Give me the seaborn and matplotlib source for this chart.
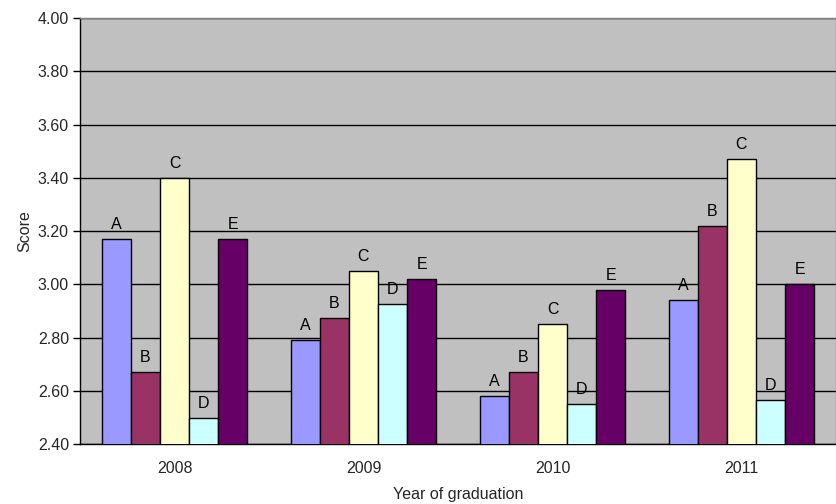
import matplotlib
matplotlib.use("Agg")
import matplotlib.pyplot as plt
import seaborn as sns
import pandas as pd
import numpy as np

# Mean scores per graduating year and group
years = ["2008", "2009", "2010", "2011"]
groups = ["A", "B", "C", "D", "E"]
score_a = [3.17, 2.79, 2.58, 2.94]
score_b = [2.67, 2.875, 2.67, 3.22]
score_c = [3.40, 3.05, 2.85, 3.47]
score_d = [2.50, 2.925, 2.55, 2.565]
score_e = [3.17, 3.02, 2.98, 3.00]
y_ticks = [2.40, 2.60, 2.80, 3.00, 3.20, 3.40, 3.60, 3.80, 4.00]

colors = ["#9999FF", "#993366", "#FFFFCC", "#CCFFFF", "#660066"]

series = [score_a, score_b, score_c, score_d, score_e]
df = pd.DataFrame(
    [(y, g, v) for g, vals in zip(groups, series) for y, v in zip(years, vals)],
    columns=["year", "group", "score"],
)

sns.set_theme(style="white")
plt.rcParams["font.family"] = ["Liberation Sans", "DejaVu Sans"]
FS = 11.5

fig = plt.figure(figsize=(8.37, 5.04), dpi=100)
ax = fig.add_axes([80 / 837, 1 - 444.3 / 504, 756 / 837, (444.3 - 18) / 504])
ax.set_facecolor("#C0C0C0")

sns.barplot(
    data=df, x="year", y="score", hue="group",
    order=years, hue_order=groups, palette=colors, saturation=1,
    width=5 / 6.5, gap=0, edgecolor="black", linewidth=1,
    legend=False, ax=ax, zorder=3,
)

for cont, g in zip(ax.containers, groups):
    ax.bar_label(cont, labels=[g] * len(years), padding=5, fontsize=FS, color="black")

ax.set_ylim(2.40, 4.00)
ax.set_xlim(-0.5, len(years) - 0.5)
ax.set_yticks(y_ticks)
ax.set_yticklabels([f"{t:.2f}" for t in y_ticks])
ax.yaxis.grid(True, color="black", linewidth=1)
ax.set_axisbelow(True)

ax.set_xticks(np.arange(len(years)))
ax.set_xticklabels(years)
ax.set_xticks(np.arange(len(years) + 1) - 0.5, minor=True)
ax.tick_params(axis="x", which="major", length=0, labelsize=FS, pad=12)
ax.tick_params(axis="x", which="minor", length=5, width=1, color="black", direction="out")
ax.tick_params(axis="y", length=5, width=1, color="black", direction="out", left=True, labelsize=FS, pad=3)

for side in ["left", "bottom"]:
    ax.spines[side].set_color("black")
    ax.spines[side].set_linewidth(1)
for side in ["top", "right"]:
    ax.spines[side].set_color("#808080")
    ax.spines[side].set_linewidth(1)

ax.set_xlabel("Year of graduation", fontsize=FS, labelpad=8)
ax.set_ylabel("Score", fontsize=FS, labelpad=4)

fig.savefig("out.png", dpi=100)
